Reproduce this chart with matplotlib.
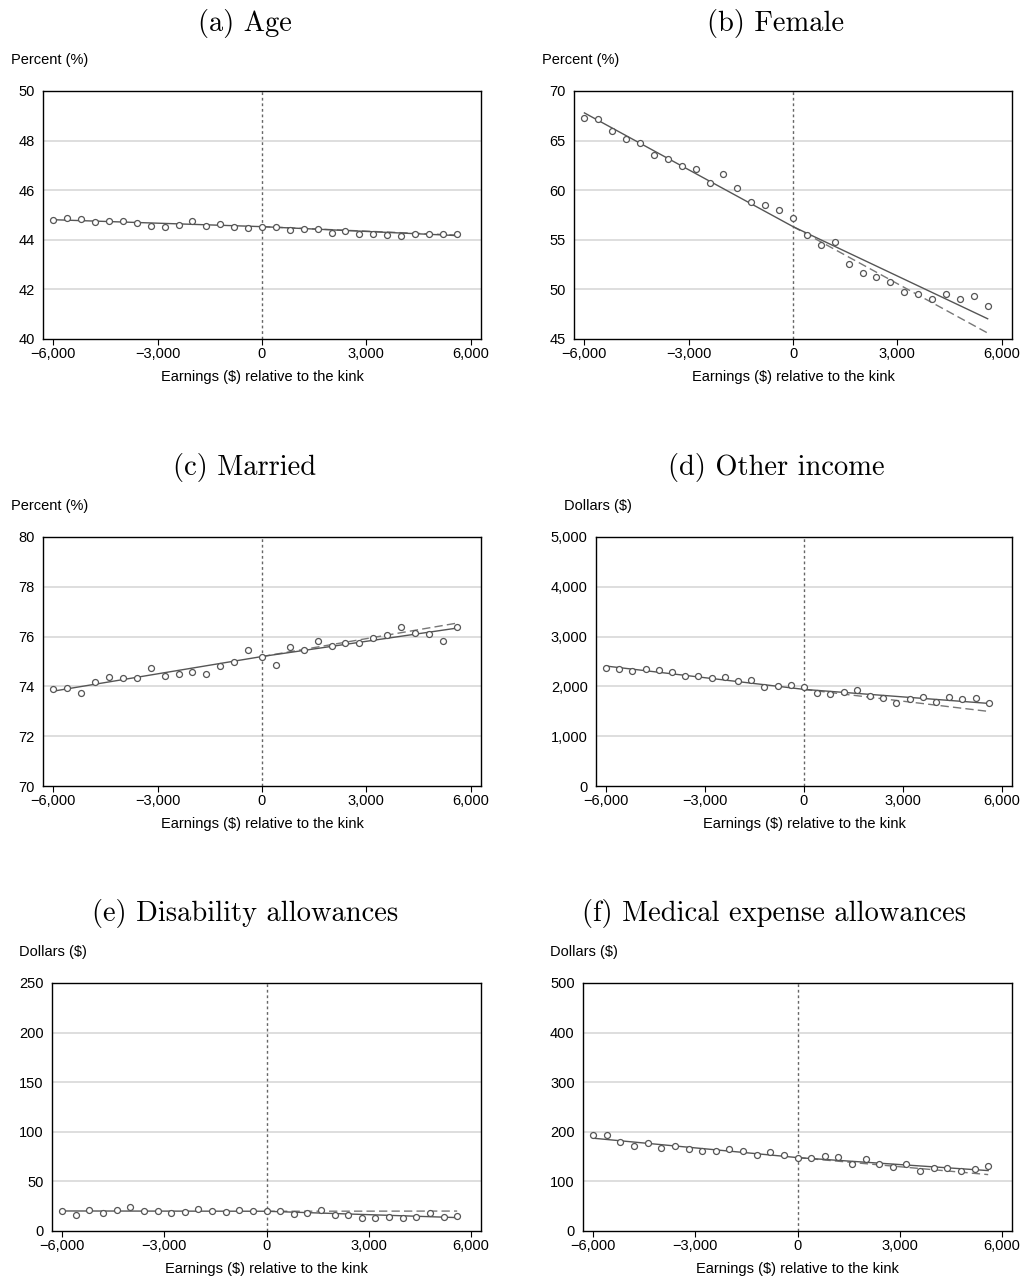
import numpy as np
import matplotlib
matplotlib.use("Agg")
import matplotlib.pyplot as plt

plt.rcParams['font.family'] = ['Liberation Sans', 'DejaVu Sans']

# earnings bins relative to the kink
bins = [-6000, -5600, -5200, -4800, -4400, -4000, -3600, -3200, -2800, -2400,
        -2000, -1600, -1200, -800, -400, 0, 400, 800, 1200, 1600,
        2000, 2400, 2800, 3200, 3600, 4000, 4400, 4800, 5200, 5600]

age = [44.79, 44.88, 44.83, 44.72, 44.75, 44.76, 44.66, 44.56, 44.52, 44.58,
       44.76, 44.54, 44.65, 44.50, 44.49, 44.52, 44.52, 44.41, 44.45, 44.42,
       44.29, 44.34, 44.22, 44.22, 44.18, 44.16, 44.22, 44.25, 44.22, 44.24]
female = [67.29, 67.22, 65.95, 65.17, 64.71, 63.57, 63.16, 62.43, 62.12, 60.72,
          61.62, 60.25, 58.81, 58.47, 57.97, 57.17, 55.49, 54.48, 54.75, 52.54,
          51.70, 51.20, 50.76, 49.73, 49.56, 49.02, 49.56, 49.02, 49.32, 48.28]
married = [73.89, 73.93, 73.73, 74.19, 74.38, 74.35, 74.34, 74.75, 74.43, 74.50,
           74.59, 74.50, 74.82, 74.98, 75.45, 75.17, 74.87, 75.57, 75.46, 75.83,
           75.62, 75.73, 75.76, 75.95, 76.05, 76.39, 76.13, 76.09, 75.83, 76.39]
other_income = [2369, 2342, 2302, 2342, 2329, 2295, 2201, 2215, 2168, 2195,
                2114, 2121, 1987, 2013, 2034, 1980, 1859, 1852, 1893, 1919,
                1805, 1758, 1664, 1738, 1779, 1685, 1785, 1745, 1758, 1664]
disability = [20.5, 16.2, 21.5, 18.5, 20.9, 24.6, 19.9, 19.9, 18.2, 19.2,
              21.9, 19.9, 19.5, 21.2, 20.5, 20.2, 20.5, 17.5, 18.2, 20.9,
              16.5, 15.8, 13.5, 13.1, 14.5, 13.5, 14.1, 18.2, 13.8, 15.1]
medical = [194.5, 194.5, 179.7, 171.6, 177.7, 166.9, 171.6, 165.5, 161.5, 162.2,
           165.5, 160.8, 154.1, 160.2, 154.1, 148.0, 146.7, 150.7, 149.4, 135.3,
           144.7, 135.3, 129.2, 135.3, 120.5, 127.9, 127.9, 120.5, 125.8, 131.9]

# fitted line: value at -6000, at the kink, at 5600, and left-slope extrapolation at 5600
fit_x = [-6000, 0, 5600]
fit_age = [44.81, 44.53, 44.17]
fit_female = [67.79, 56.33, 47.04]
fit_married = [73.81, 75.20, 76.34]
fit_other = [2409, 1940, 1658]
fit_disab = [20.2, 19.9, 13.5]
fit_medical = [187.1, 148.0, 121.8]
dash_end = [44.19, 45.6, 76.54, 1497, 20.1, 113.7]

titles = ["(a) Age", "(b) Female", "(c) Married", "(d) Other income",
          "(e) Disability allowances", "(f) Medical expense allowances"]
ylabels = ["Percent (%)", "Percent (%)", "Percent (%)", "Dollars ($)",
           "Dollars ($)", "Dollars ($)"]
yticks = [[40, 42, 44, 46, 48, 50], [45, 50, 55, 60, 65, 70],
          [70, 72, 74, 76, 78, 80], [0, 1000, 2000, 3000, 4000, 5000],
          [0, 50, 100, 150, 200, 250], [0, 100, 200, 300, 400, 500]]
xticks = [-6000, -3000, 0, 3000, 6000]

series = [age, female, married, other_income, disability, medical]
fits = [fit_age, fit_female, fit_married, fit_other, fit_disab, fit_medical]

W, H = 1022, 1282
fig = plt.figure(figsize=(W / 100, H / 100), dpi=100)

# axes boxes in pixels: left, top, right, bottom
boxes = [(43, 91, 481, 339), (574, 91, 1012, 339),
         (43, 537, 481, 786), (596, 537, 1012, 786),
         (52, 983, 481, 1231), (583, 983, 1012, 1231)]
title_pos = [(245, 23), (776, 23), (245, 468), (776, 468), (245, 913), (774, 913)]
ylab_pos = [(11, 60), (542, 60), (11, 506), (564, 506), (19, 952), (550, 952)]


def fmt(v):
    s = "{:,}".format(int(v))
    return s.replace("-", "\u2212")


for i in range(6):
    l, t, r, b = boxes[i]
    ax = fig.add_axes([l / W, 1 - b / H, (r - l) / W, (b - t) / H])
    yt = yticks[i]
    ax.set_xlim(-6300, 6300)
    ax.set_ylim(yt[0], yt[-1])
    for y in yt[1:-1]:
        ax.axhline(y, color="#d4d4d4", lw=1.1, zorder=0)
    ax.axvline(0, color="#666666", lw=1, ls=(0, (2, 2)), zorder=1)

    f = fits[i]
    ax.plot([0, 5600], [f[1], dash_end[i]], color="#777777", lw=1,
            ls=(0, (6, 3)), zorder=2)
    ax.plot(fit_x, f, color="#555555", lw=1, zorder=3)
    ax.plot(bins, series[i], ls="none", marker="o", ms=4.3, mfc="white",
            mec="#555555", mew=0.9, zorder=4)

    ax.set_xticks(xticks)
    ax.set_xticklabels([fmt(v) for v in xticks], fontsize=10.5)
    ax.set_yticks(yt)
    ax.set_yticklabels([fmt(v) for v in yt], fontsize=10.5)
    ax.tick_params(axis="x", length=4, width=0.8, pad=2, colors="black")
    ax.tick_params(axis="y", length=0, pad=6)
    for sp in ax.spines.values():
        sp.set_linewidth(1)
        sp.set_color("black")
    ax.set_xlabel("Earnings ($) relative to the kink", fontsize=10.5, labelpad=6)

    tx, ty = title_pos[i]
    fig.text(tx / W, 1 - ty / H, titles[i], family="cmr10", fontsize=20.5,
             ha="center", va="center")
    lx, ly = ylab_pos[i]
    fig.text(lx / W, 1 - ly / H, ylabels[i], fontsize=10.5, ha="left", va="center")

fig.savefig("out.png", dpi=100)
